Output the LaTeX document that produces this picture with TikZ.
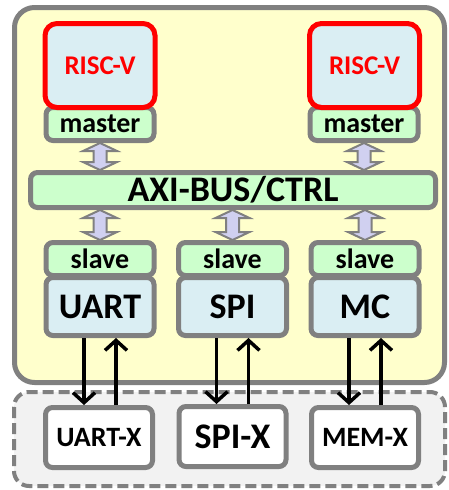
\documentclass[tikz,border=0pt]{standalone}
\usepackage{fontspec}
\setmainfont{Carlito}
\usetikzlibrary{arrows.meta,calc}
\definecolor{rimgray}{HTML}{808080}
\definecolor{chipyellow}{HTML}{FFFFCC}
\definecolor{coreblue}{HTML}{DAEEF3}
\definecolor{portgreen}{HTML}{CCFFCC}
\definecolor{buslilac}{HTML}{D0D0F0}
\definecolor{extgray}{HTML}{F2F2F2}
\newcommand{\busarrow}[2]{%
  \filldraw[busarrowline] (#1) -- ($(#1)+(17,8)$) -- ($(#1)+(6.5,8)$) -- ($(#2)+(6.5,-8)$)
    -- ($(#2)+(17,-8)$) -- (#2) -- ($(#2)+(-17,-8)$) -- ($(#2)+(-6.5,-8)$)
    -- ($(#1)+(-6.5,8)$) -- ($(#1)+(-17,8)$) -- cycle;}
\begin{document}
\begin{tikzpicture}[x=1pt,y=-1pt,
  box/.style={draw=rimgray,line width=5pt,rounded corners=7pt,inner sep=0pt},
  core/.style={box,draw=red,fill=coreblue,rounded corners=12pt,minimum width=110pt,minimum height=84pt,text=red,font=\bfseries\fontsize{27}{29}\selectfont},
  port/.style={box,fill=portgreen,minimum width=108pt,minimum height=33pt,font=\bfseries\fontsize{28}{30}\selectfont},
  unit/.style={box,fill=coreblue,minimum width=108pt,minimum height=58pt,font=\bfseries\fontsize{36}{38}\selectfont},
  ext/.style={box,fill=white,minimum width=107pt,minimum height=60pt,font=\bfseries\fontsize{28}{30}\selectfont},
  busarrowline/.style={draw=rimgray,fill=buslilac,line width=2pt,line join=miter},
  wire/.style={line width=3.5pt,-{Straight Barb[length=10pt,width=22pt]}}]
\useasboundingbox (0,0) rectangle (449,490);
\draw[draw=rimgray,fill=extgray,line width=4pt,dash pattern=on 11pt off 5pt,rounded corners=15pt] (14,392) rectangle (445,486);
\draw[draw=rimgray,fill=chipyellow,line width=5pt,rounded corners=20pt] (14.5,7.5) rectangle (444.5,382.5);
\node[port] (mstL) at (100,124) {master};
\node[port] (mstR) at (364,124) {master};
\node[core] (cpuL) at (100,65.5) {RISC-V};
\node[core] (cpuR) at (364.5,65.5) {RISC-V};
\node[box,fill=portgreen,minimum width=405pt,minimum height=35pt,font=\bfseries\fontsize{36}{38}\selectfont] (bus) at (233,190) {AXI-BUS/CTRL};
\node[unit] (uart) at (100,306.5) {UART};
\node[unit] (spi) at (232.5,306.5) {SPI};
\node[unit] (mc) at (365,306.5) {MC};
\node[port] (slvU) at (100,259) {slave};
\node[port] (slvS) at (232.5,259) {slave};
\node[port] (slvM) at (365,259) {slave};
\node[ext] (uartx) at (99,437.5) {UART-X};
\node[ext,font=\bfseries\fontsize{36}{38}\selectfont] (spix) at (232.5,436.5) {SPI-X};
\node[ext] (memx) at (365,437.5) {MEM-X};
\busarrow{mstL.south}{mstL.south|-bus.north}
\busarrow{mstR.south}{mstR.south|-bus.north}
\busarrow{slvU.north|-bus.south}{slvU.north}
\busarrow{slvS.north|-bus.south}{slvS.north}
\busarrow{slvM.north|-bus.south}{slvM.north}
\draw[wire] ([xshift=-16pt]uart.south) -- ([xshift=-16pt]uart.south|-uartx.north);
\draw[wire] ([xshift=16pt]uart.south|-uartx.north) -- ([xshift=16pt]uart.south);
\draw[wire] ([xshift=-16pt]spi.south) -- ([xshift=-16pt]spi.south|-spix.north);
\draw[wire] ([xshift=16pt]spi.south|-spix.north) -- ([xshift=16pt]spi.south);
\draw[wire] ([xshift=-16pt]mc.south) -- ([xshift=-16pt]mc.south|-memx.north);
\draw[wire] ([xshift=16pt]mc.south|-memx.north) -- ([xshift=16pt]mc.south);
\end{tikzpicture}
\end{document}
